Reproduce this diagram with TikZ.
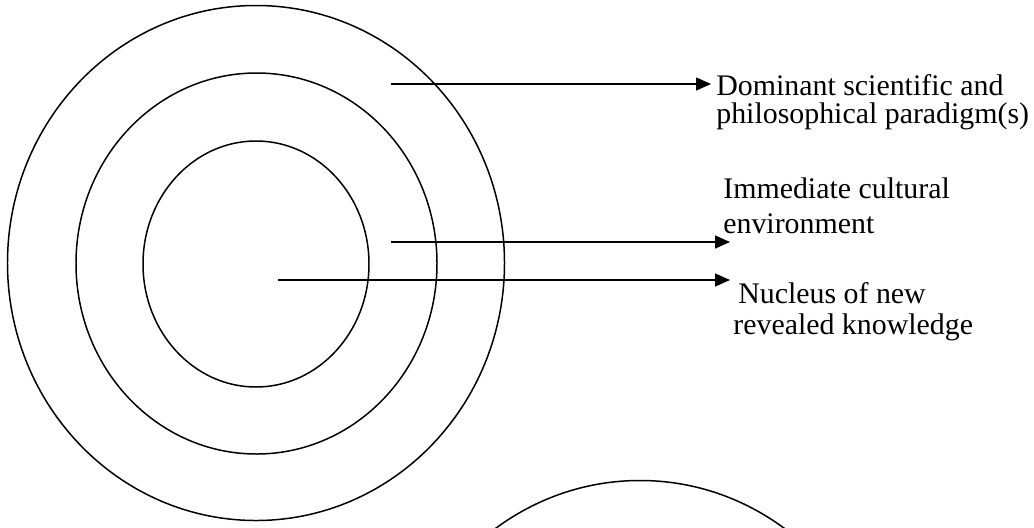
\documentclass[tikz,border=0pt]{standalone}
\usepackage{fontspec}
\setmainfont{Liberation Serif}
\usetikzlibrary{shapes.geometric,arrows.meta}
\tikzset{
  anillo/.style={draw,ellipse,line width=0.85pt,inner sep=0pt},
  flecha/.style={-{Triangle[length=3mm,width=2.6mm]},line width=0.85pt},
  rotulo/.style={anchor=base west,align=left,inner sep=0pt,font=\fontsize{17}{15.4}\selectfont},
}
\begin{document}
\begin{tikzpicture}[x=0.2mm,y=-0.2mm]
  \clip (0,0) rectangle (1034,527);
  % anillos concentricos
  \node[anillo,minimum width=99.4mm,minimum height=103mm] (externo) at (256,263) {};
  \node[anillo,minimum width=72.2mm,minimum height=76.2mm] (medio) at (256.5,263.5) {};
  \node[anillo,minimum width=45.2mm,minimum height=49.2mm] (interno) at (256,264) {};
  \node[anillo,minimum width=99.4mm,minimum height=103mm] (inferior) at (640,738) {};
  % rotulos (base = ultima linea)
  \node[rotulo] (paradigma) at (716,123) {Dominant scientific and\\philosophical paradigm(s)};
  \node[rotulo,font=\fontsize{17}{19.9}\selectfont] (entorno) at (723,233) {Immediate cultural\\environment};
  \node[rotulo,font=\fontsize{17}{17.6}\selectfont] (nucleo) at (733,334) {\hspace*{1mm}Nucleus of new\\revealed knowledge};
  \coordinate (a1) at (391,84);  \coordinate (b1) at (711,84);
  \coordinate (a2) at (391,242); \coordinate (b2) at (730,242);
  \coordinate (a3) at (278,280); \coordinate (b3) at (730,280);
  \draw[flecha] (a1) -- (b1);
  \draw[flecha] (a2) -- (b2);
  \draw[flecha] (a3) -- (b3);
\end{tikzpicture}
\end{document}
